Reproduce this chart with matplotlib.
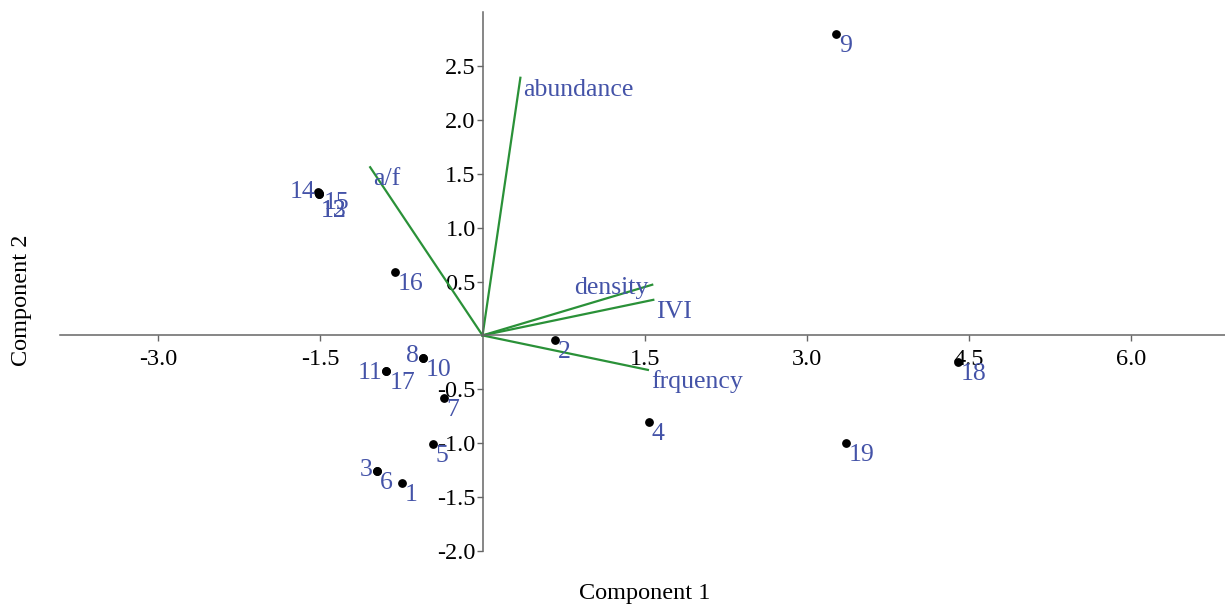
import matplotlib
matplotlib.use("Agg")
import matplotlib.pyplot as plt

plt.rcParams['font.family'] = ['Liberation Serif', 'DejaVu Serif']

# Case scores (Component 1, Component 2)
case_labels = ['1', '2', '3', '4', '5', '6', '7', '8', '9', '10',
               '11', '12', '13', '14', '15', '16', '17', '18', '19']
case_x = [-0.75, 0.67, -0.98, 1.54, -0.46, -0.98, -0.36, -0.55, 3.27, -0.55,
          -0.89, -1.51, -1.51, -1.52, -1.51, -0.81, -0.89, 4.40, 3.36]
case_y = [-1.37, -0.04, -1.26, -0.80, -1.01, -1.26, -0.58, -0.21, 2.80, -0.21,
          -0.33, 1.31, 1.31, 1.33, 1.32, 0.59, -0.33, -0.25, -1.00]

# Variable loadings
var_labels = ['abundance', 'a/f', 'density', 'IVI', 'frquency']
var_x = [0.35, -1.04, 1.57, 1.58, 1.53]
var_y = [2.39, 1.56, 0.47, 0.33, -0.32]

xticks = [-3.0, -1.5, 1.5, 3.0, 4.5, 6.0]
yticks = [-2.0, -1.5, -1.0, -0.5, 0.5, 1.0, 1.5, 2.0, 2.5]

label_color = '#4453a8'
line_color = '#2a9138'
axis_color = '#666666'

# label offsets in pixels (dx, dy) and horizontal alignment
std = (3, -12, 'left')
case_offsets = {
    '3': (-4, 1, 'right'),
    '8': (-4, 2, 'right'),
    '11': (-4, -2, 'right'),
    '14': (-3, 0, 'right'),
    '12': (1, -17, 'left'),
    '13': (1, -17, 'left'),
    '15': (4, -10, 'left'),
}
var_offsets = {
    'density': (-4, -3, 'right'),
}

fig = plt.figure(figsize=(12.25, 6.07), dpi=100)
ax = fig.add_axes([60 / 1225, 56 / 607, 1165 / 1225, 539 / 607])
ax.set_xlim(-3.91, 6.87)
ax.set_ylim(-2.0, 3.0)

for sp in ['top', 'right']:
    ax.spines[sp].set_visible(False)
ax.spines['left'].set_position(('data', 0))
ax.spines['bottom'].set_position(('data', 0))
for sp in ['left', 'bottom']:
    ax.spines[sp].set_color(axis_color)
    ax.spines[sp].set_linewidth(1.1)

ax.set_xticks(xticks)
ax.set_xticklabels([f'{v:.1f}' for v in xticks])
ax.set_yticks(yticks)
ax.set_yticklabels([f'{v:.1f}' for v in yticks])
ax.tick_params(axis='both', direction='out', length=4, width=1.0,
               color=axis_color, labelsize=17.5, labelcolor='black')
ax.tick_params(axis='x', pad=6)
ax.tick_params(axis='y', pad=1)

# vectors
for lbl, vx, vy in zip(var_labels, var_x, var_y):
    ax.plot([0, vx], [0, vy], color=line_color, lw=1.6, zorder=2)
    dx, dy, ha = var_offsets.get(lbl, std)
    ax.annotate(lbl, (vx, vy), xytext=(dx, dy), textcoords='offset pixels',
                ha=ha, va='center', fontsize=18.5, color=label_color, zorder=4)

# points
ax.scatter(case_x, case_y, s=28, color='black', zorder=3)
for lbl, cx, cy in zip(case_labels, case_x, case_y):
    dx, dy, ha = case_offsets.get(lbl, std)
    ax.annotate(lbl, (cx, cy), xytext=(dx, dy), textcoords='offset pixels',
                ha=ha, va='center', fontsize=18.5, color=label_color, zorder=4)

fig.text(645 / 1225, 1 - 594 / 607, 'Component 1', ha='center', va='center',
         fontsize=17.5)
fig.text(22 / 1225, 1 - 300 / 607, 'Component 2', ha='center', va='center',
         fontsize=17.5, rotation=90)

fig.savefig('out.png', dpi=100, facecolor='white')
